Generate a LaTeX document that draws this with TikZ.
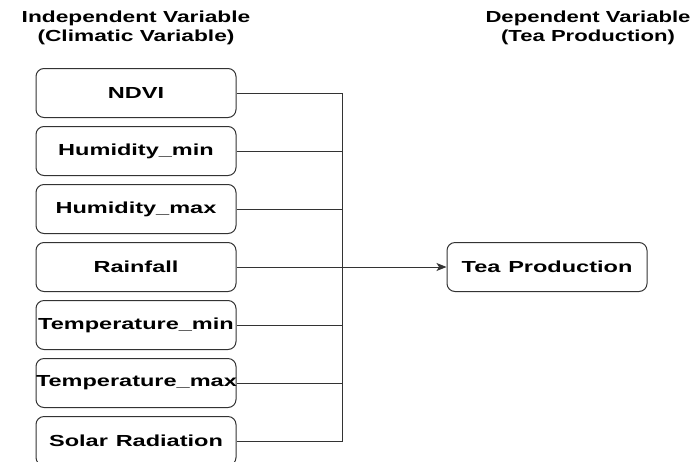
\documentclass[tikz,border=0pt]{standalone}
\usepackage{fontspec}
\setmainfont{Liberation Sans}
\usetikzlibrary{positioning,arrows.meta}

% labels are set a little wider than the font
\newcommand{\wide}[2][1.47]{\scalebox{#1}[1]{#2}}

\tikzset{
  varbox/.style={draw=black!80, line width=1pt, rounded corners=8pt, text width=200pt,
    align=center, minimum height=49pt, inner sep=0pt, font=\bfseries\fontsize{16}{19}\selectfont},
  heading/.style={align=center, inner sep=0pt, font=\bfseries\fontsize{16}{19}\selectfont},
  link/.style={draw=black!80, line width=1pt}
}

\begin{document}
\begin{tikzpicture}[x=1pt,y=-1pt]
\useasboundingbox (0,0) rectangle (700,461);

% Otsikot
\node[heading] (indep) at (136,27.5) {\wide[1.42]{Independent Variable}\\\wide[1.42]{(Climatic Variable)}};
\node[heading] (dep) at (588,27.5) {\wide[1.38]{Dependent Variable}\\\wide[1.38]{(Tea Production)}};

% Selittavat muuttujat
\node[varbox] (ndvi) at (136,93) {\wide{NDVI}};
\node[varbox, below=8pt of ndvi] (hmin) {\wide{Humidity\_min}};
\node[varbox, below=8pt of hmin] (hmax) {\wide{Humidity\_max}};
\node[varbox, below=8pt of hmax] (rain) {\wide{Rainfall}};
\node[varbox, below=8pt of rain] (tmin) {\wide{Temperature\_min}};
\node[varbox, below=8pt of tmin] (tmax) {\wide{Temperature\_max}};
\node[varbox, below=8pt of tmax] (solar) {\wide{Solar Radiation}};

% Selitettava muuttuja
\node[varbox] (tea) at (547,267) {\wide{Tea Production}};

% Kokoojaviiva
\coordinate (bustop) at (342,93);
\draw[link] (ndvi.east) -- (bustop) -- (bustop |- solar.east) -- (solar.east);
\foreach \v in {hmin, hmax, tmin, tmax}
	\draw[link] (\v.east) -- (\v.east -| bustop);
\draw[link, -{Stealth[length=10pt,width=8pt,inset=2.5pt]}] (rain.east) -- (tea.west);

\end{tikzpicture}
\end{document}
